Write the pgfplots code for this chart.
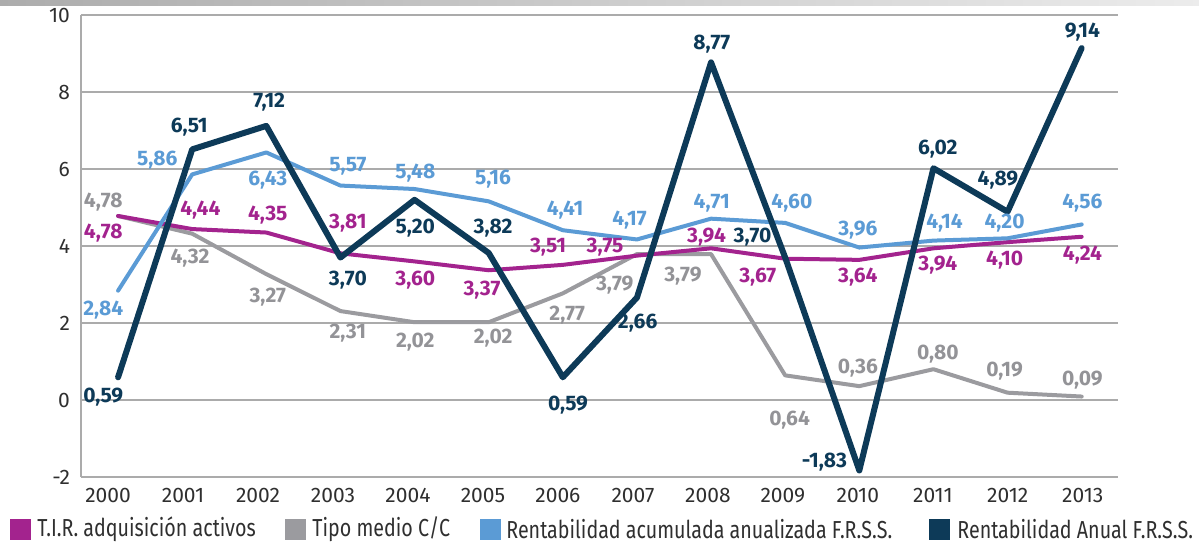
\documentclass[border=0pt]{standalone}
\usepackage{pgfplots}
\pgfplotsset{compat=1.18}
\usepackage{fontspec}
\setmainfont{Fira Sans}
\newfontfamily\legfont[FakeStretch=0.80]{Fira Sans}
\definecolor{cMag}{HTML}{A3238E}
\definecolor{cGray}{HTML}{9B9B9F}
\definecolor{cGrayLbl}{HTML}{939397}
\definecolor{cBlue}{HTML}{5B9BD5}
\definecolor{cNavy}{HTML}{0D3A58}
\definecolor{gridc}{HTML}{ABABAB}
\definecolor{tickc}{HTML}{2F2F2F}
\tikzset{lbl/.style={font=\bfseries\fontsize{10.5}{12}\selectfont}}
\begin{document}
\begin{tikzpicture}[x=1pt,y=1pt]
\useasboundingbox (0,0) rectangle (599.5,271.5);
\shade[left color=gray!65, right color=gray!15] (0,269) rectangle (599.5,271.5);
\begin{axis}[at={(40.5pt,33pt)}, anchor=south west, scale only axis,
  width=518.5pt, height=231pt,
  xmin=-0.5, xmax=13.49, ymin=-2, ymax=10,
  ytick={-2,0,2,4,6,8,10},
  xtick={-0.135,0.877,1.888,2.900,3.911,4.923,5.934,6.946,7.957,8.969,9.980,10.992,12.003,13.015},
  xticklabels={2000,2001,2002,2003,2004,2005,2006,2007,2008,2009,2010,2011,2012,2013},
  axis x line*=bottom, axis y line*=left,
  axis line style={draw=gridc, line width=0.8pt, -},
  ymajorgrids, grid style={draw=gridc, line width=0.6pt},
  major tick length=0pt,
  tick label style={font=\fontsize{10.5}{12}\selectfont, text=tickc},
  /pgf/number format/assume math mode=true,
  yticklabel style={xshift=-2pt},
  xticklabel style={yshift=-2pt},
  clip=false,
  every axis plot/.append style={line cap=round, line join=round},
]
% Tipo medio C/C
\addplot[cGray, line width=2pt] coordinates {(0,4.78)(1,4.32)(2,3.27)(3,2.31)(4,2.02)(5,2.02)(6,2.77)(7,3.79)(8,3.79)(9,0.64)(10,0.36)(11,0.80)(12,0.19)(13,0.09)};
% T.I.R.
\addplot[cMag, line width=2pt] coordinates {(0,4.78)(1,4.44)(2,4.35)(3,3.81)(4,3.60)(5,3.37)(6,3.51)(7,3.75)(8,3.94)(9,3.67)(10,3.64)(11,3.94)(12,4.10)(13,4.24)};
% Rentabilidad acumulada
\addplot[cBlue, line width=2pt] coordinates {(0,2.84)(1,5.86)(2,6.43)(3,5.57)(4,5.48)(5,5.16)(6,4.41)(7,4.17)(8,4.71)(9,4.60)(10,3.96)(11,4.14)(12,4.20)(13,4.56)};
% Rentabilidad anual
\addplot[cNavy, line width=3pt] coordinates {(0,0.59)(1,6.51)(2,7.12)(3,3.70)(4,5.20)(5,3.82)(6,0.59)(7,2.66)(8,8.77)(9,3.70)(10,-1.83)(11,6.02)(12,4.89)(13,9.14)};

% labels magenta
\begin{scope}[every node/.style={lbl, text=cMag}]
\node at (axis cs:-0.20,4.34) {4,78};
\node at (axis cs:1.11,4.94) {4,44};
\node at (axis cs:2.02,4.81) {4,35};
\node at (axis cs:3.10,4.60) {3,81};
\node at (axis cs:4.01,3.12) {3,60};
\node at (axis cs:4.91,2.86) {3,37};
\node at (axis cs:5.80,3.97) {3,51};
\node at (axis cs:6.57,3.97) {3,75};
\node at (axis cs:7.94,4.23) {3,94};
\node at (axis cs:8.63,3.19) {3,67};
\node at (axis cs:9.98,3.19) {3,64};
\node at (axis cs:11.06,3.51) {3,94};
\node at (axis cs:11.96,3.64) {4,10};
\node at (axis cs:13.01,3.77) {4,24};
\end{scope}
% labels gray
\begin{scope}[every node/.style={lbl, text=cGrayLbl}]
\node at (axis cs:-0.20,5.14) {4,78};
\node at (axis cs:0.97,3.69) {4,32};
\node at (axis cs:2.02,2.68) {3,27};
\node at (axis cs:3.10,1.74) {2,31};
\node at (axis cs:4.01,1.51) {2,02};
\node at (axis cs:5.06,1.61) {2,02};
\node at (axis cs:6.06,2.21) {2,77};
\node at (axis cs:6.70,2.99) {3,79};
\node at (axis cs:7.62,3.22) {3,79};
\node at (axis cs:9.06,-0.52) {0,64};
\node at (axis cs:9.98,0.83) {0,36};
\node at (axis cs:11.06,1.19) {0,80};
\node at (axis cs:11.96,0.75) {0,19};
\node at (axis cs:13.01,0.52) {0,09};
\end{scope}
% labels blue
\begin{scope}[every node/.style={lbl, text=cBlue}]
\node at (axis cs:-0.20,2.34) {2,84};
\node at (axis cs:0.53,6.23) {5,86};
\node at (axis cs:2.02,5.71) {6,43};
\node at (axis cs:3.10,6.08) {5,57};
\node at (axis cs:4.01,5.90) {5,48};
\node at (axis cs:5.06,5.74) {5,16};
\node at (axis cs:6.03,4.94) {4,41};
\node at (axis cs:6.90,4.68) {4,17};
\node at (axis cs:8.01,5.12) {4,71};
\node at (axis cs:9.09,5.12) {4,60};
\node at (axis cs:9.98,4.42) {3,96};
\node at (axis cs:11.15,4.60) {4,14};
\node at (axis cs:11.96,4.60) {4,20};
\node at (axis cs:13.01,5.12) {4,56};
\end{scope}
% labels navy
\begin{scope}[every node/.style={lbl, text=cNavy}]
\node at (axis cs:-0.20,0.08) {0,59};
\node at (axis cs:0.96,7.09) {6,51};
\node at (axis cs:2.04,7.74) {7,12};
\node at (axis cs:3.10,3.12) {3,70};
\node at (axis cs:4.01,4.47) {5,20};
\node at (axis cs:5.06,4.47) {3,82};
\node at (axis cs:6.07,-0.13) {0,59};
\node at (axis cs:7.01,2.00) {2,66};
\node at (axis cs:8.01,9.25) {8,77};
\node at (axis cs:8.56,4.23) {3,70};
\node at (axis cs:9.53,-1.61) {-1,83};
\node at (axis cs:11.06,6.52) {6,02};
\node at (axis cs:11.87,5.71) {4,89};
\node at (axis cs:13.01,9.56) {9,14};
\end{scope}
\end{axis}
% legend
\begin{scope}[every node/.style={inner sep=0pt}]
\fill[cMag] (5,1.5) rectangle (15.5,12.25);
\node[anchor=west, text=tickc, font=\legfont\fontsize{12.3}{14}\selectfont] at (18.5,6.8) {T.I.R. adquisición activos};
\fill[cGray] (142.5,1.5) rectangle (153,12.25);
\node[anchor=west, text=tickc, font=\legfont\fontsize{12.3}{14}\selectfont] at (156,6.8) {Tipo medio C/C};
\fill[cBlue] (240,1.5) rectangle (250.5,12.25);
\node[anchor=west, text=tickc, font=\legfont\fontsize{12.3}{14}\selectfont] at (253,6.8) {Rentabilidad acumulada anualizada F.R.S.S.};
\fill[cNavy] (464.5,1.5) rectangle (475,12.25);
\node[anchor=west, text=tickc, font=\legfont\fontsize{12.3}{14}\selectfont] at (478.5,6.8) {Rentabilidad Anual F.R.S.S.};
\end{scope}
\end{tikzpicture}
\end{document}
